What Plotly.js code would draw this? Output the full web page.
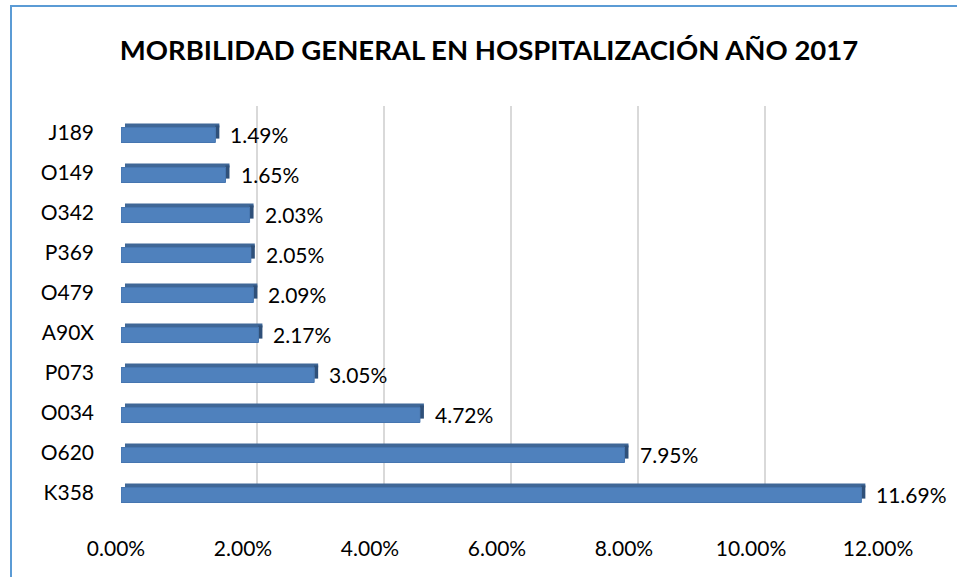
<!DOCTYPE html>
<html>
<head>
<meta charset="utf-8">
<script src="https://cdn.plot.ly/plotly-3.0.1.min.js"></script>
<style>
html,body{margin:0;padding:0;background:#fff;}
#chart{width:957px;height:577px;}
</style>
</head>
<body>
<div id="chart"></div>
<script>
// Data (top to bottom as shown)
const categories = ["J189","O149","O342","P369","O479","A90X","P073","O034","O620","K358"];
const values = [1.49, 1.65, 2.03, 2.05, 2.09, 2.17, 3.05, 4.72, 7.95, 11.69];
const tickValues = [0, 2, 4, 6, 8, 10, 12];
const tickLabels = ["0.00%","2.00%","4.00%","6.00%","8.00%","10.00%","12.00%"];
const titleText = "MORBILIDAD GENERAL EN HOSPITALIZACIÓN AÑO 2017";

const W = 957, H = 577;
const FONT = "Lato, 'Open Sans', sans-serif";
const px2fx = p => p / W;
const px2fy = p => 1 - p / H;

// 3D-ish helpers (in data units)
const depthX = 0.063;           // ~4px in value units
const valLabels = values.map(v => v.toFixed(2) + "%");

const traces = [
  // invisible trace to create the grid subplot
  {type:"scatter", x:[], y:[], xaxis:"x", yaxis:"y", showlegend:false, hoverinfo:"skip"},
  // top face
  {type:"bar", orientation:"h", x:values, y:categories, base:depthX,
   width:0.1, offset:-0.2375, xaxis:"x2", yaxis:"y2",
   marker:{color:"#3F6797", line:{width:0}}, hoverinfo:"skip", showlegend:false},
  // side face
  {type:"bar", orientation:"h", x:values.map(()=>depthX), y:categories, base:values,
   width:0.33, offset:-0.19, xaxis:"x2", yaxis:"y2",
   marker:{color:"#2F5079", line:{width:0}}, hoverinfo:"skip", showlegend:false},
  // front face
  {type:"bar", orientation:"h", x:values, y:categories,
   width:0.375, offset:-0.1375, xaxis:"x2", yaxis:"y2",
   marker:{color:"#4F81BD", line:{color:"#4575B0", width:1}}, showlegend:false}
];

const shapes = [
  // outer blue border
  {type:"rect", xref:"paper", yref:"paper",
   x0:px2fx(11), x1:1.2, y0:-0.2, y1:px2fy(6),
   line:{color:"#5B9BD5", width:2}, fillcolor:"rgba(0,0,0,0)", layer:"above"}
];
// floor slant lines at the foot of each gridline
tickValues.forEach(v => {
  shapes.push({type:"line", xref:"x", yref:"y",
    x0:v, y0:0, x1:v - 14/63.5, y1:-15/397,
    line:{color:"#D9D9D9", width:2}, layer:"below"});
});

const annotations = categories.map((c,i) => ({
  x:values[i], y:c, xref:"x2", yref:"y2", text:valLabels[i],
  showarrow:false, xanchor:"left", yanchor:"middle", xshift:13, yshift:-1,
  font:{family:FONT, size:21, color:"#000"}
}));

const layout = {
  width:W, height:H,
  margin:{l:0, r:0, t:0, b:0},
  paper_bgcolor:"#fff", plot_bgcolor:"rgba(0,0,0,0)",
  barmode:"overlay",
  font:{family:FONT, color:"#000"},
  title:{text:titleText, x:489/W, xanchor:"center", y:px2fy(50), yanchor:"middle",
         xref:"container", yref:"container",
         font:{family:FONT, size:27.5, weight:700, color:"#000"}},
  xaxis:{domain:[px2fx(130), px2fx(892)], range:[0,12], anchor:"y",
         tickvals:tickValues, ticktext:tickLabels,
         showgrid:true, gridcolor:"#D9D9D9", gridwidth:2,
         zeroline:false, showline:false, ticks:"",
         ticklabelshift:-14, ticklabelstandoff:31,
         tickfont:{family:FONT, size:21, color:"#000"}},
  yaxis:{domain:[px2fy(503), px2fy(106)], range:[0,1], anchor:"x",
         showgrid:false, zeroline:false, showticklabels:false, showline:false},
  xaxis2:{domain:[px2fx(121), px2fx(881)], range:[0,12], anchor:"y2",
          showgrid:false, zeroline:false, showticklabels:false, showline:false},
  yaxis2:{domain:[px2fy(513), px2fy(113)], anchor:"x2",
          type:"category", categoryorder:"array", categoryarray:categories,
          range:[categories.length-0.5, -0.5],
          showgrid:false, zeroline:false, showline:false, ticks:"",
          ticklabelstandoff:26,
          tickfont:{family:FONT, size:21, color:"#000"}},
  shapes:shapes,
  annotations:annotations
};

Plotly.newPlot("chart", traces, layout, {staticPlot:true, displayModeBar:false});
</script>
</body>
</html>
